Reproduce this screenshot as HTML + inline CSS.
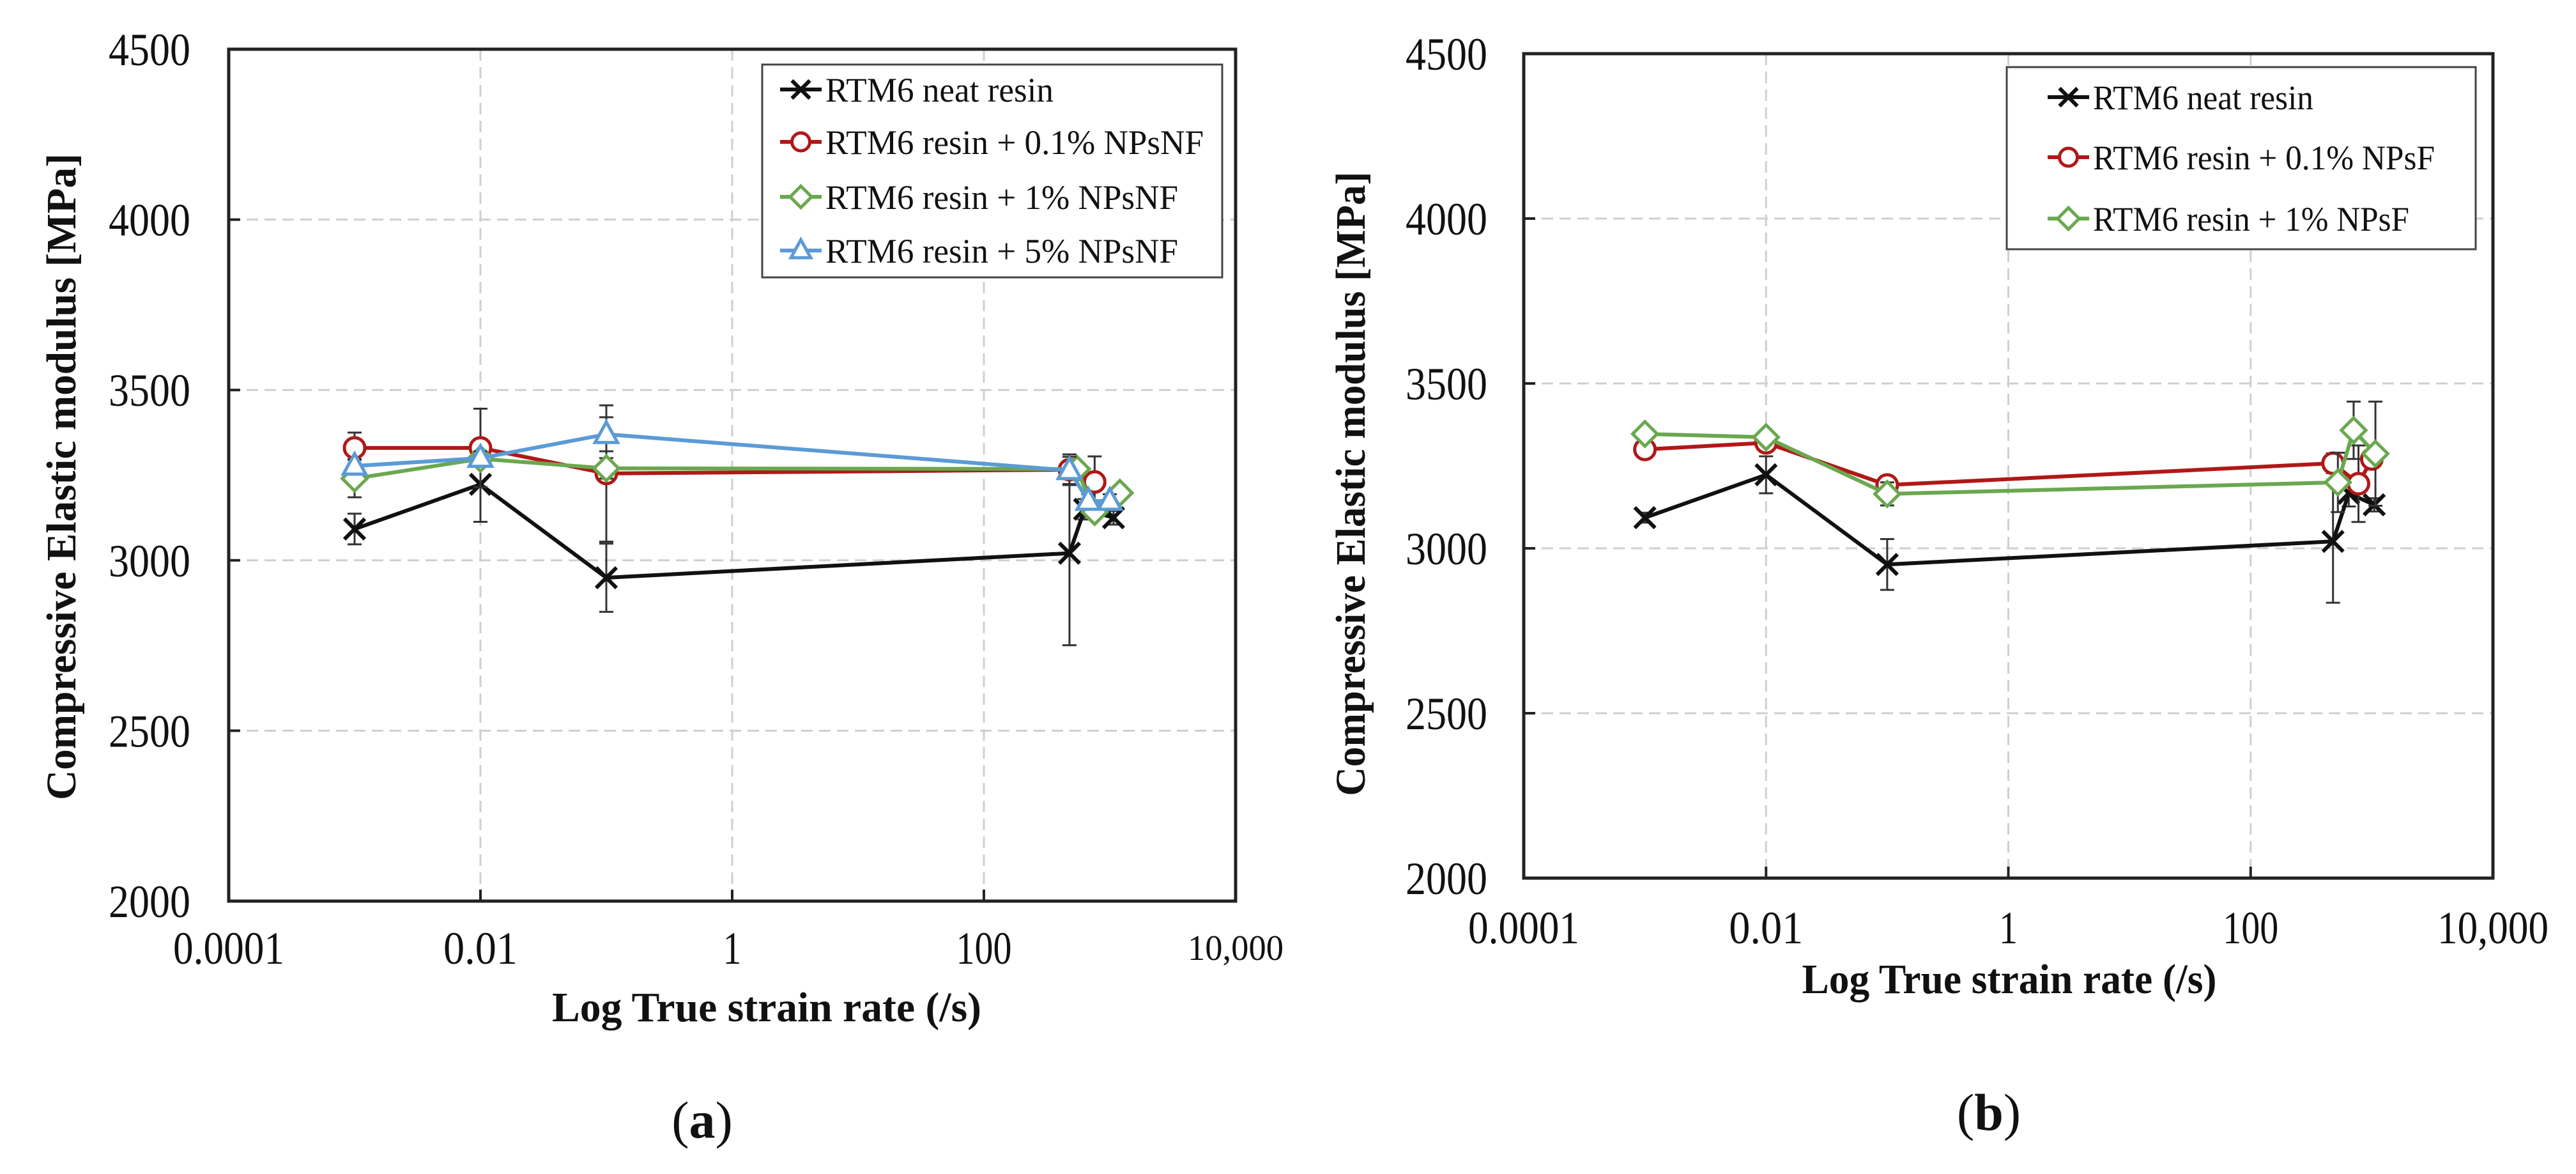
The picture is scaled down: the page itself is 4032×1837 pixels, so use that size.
<!DOCTYPE html>
<html><head><meta charset="utf-8"><style>
html,body{margin:0;padding:0;background:#fff;}
svg{display:block;}
text{font-family:"Liberation Serif",serif;fill:#111;}
</style></head><body>
<svg id="fig" width="4032" height="1837" viewBox="0 0 4032 1837" xmlns="http://www.w3.org/2000/svg">
<rect width="4032" height="1837" fill="#fff"/>
<g id="chartA"></g>
<g id="chartB"></g>
<text x="1099" y="1780" font-size="82" text-anchor="middle">(<tspan font-weight="bold">a</tspan>)</text>
<text x="3113" y="1768" font-size="82" text-anchor="middle">(<tspan font-weight="bold">b</tspan>)</text>
</svg>
<script>
// ---- data (log10 of strain rate, modulus MPa, error) ----
const yTicks = [2000, 2500, 3000, 3500, 4000, 4500];
const xTickExp = [-4, -2, 0, 2, 4];
const xTickLabels = ["0.0001", "0.01", "1", "100", "10,000"];

const aNeatX = [-3, -2, -1, 2.68, 2.80, 3.03];
const aNeatY = [3092, 3223, 2949, 3021, 3150, 3125];
const aNeatE = [45, 110, 100, 270, 30, 20];
const aR01X = [-3, -2, -1, 2.68, 2.88];
const aR01Y = [3330, 3330, 3255, 3266, 3230];
const aR01E = [45, 115, 200, 45, 75];
const aR1X = [-3, -2, -1, 2.74, 2.88, 3.08];
const aR1Y = [3240, 3298, 3270, 3268, 3142, 3198];
const aR1E = [55, 20, 30, 20, 20, 20];
const aR5X = [-3, -2, -1, 2.68, 2.83, 3.0];
const aR5Y = [3277, 3300, 3370, 3264, 3174, 3174];
const aR5E = [20, 20, 50, 40, 20, 20];

const bNeatX = [-3, -2, -1, 2.68, 2.81, 3.02];
const bNeatY = [3093, 3223, 2951, 3021, 3167, 3132];
const bNeatE = [15, 56, 77, 186, 40, 20];
const bR01X = [-3, -2, -1, 2.68, 2.89, 3.0];
const bR01Y = [3300, 3320, 3192, 3258, 3196, 3271];
const bR01E = [10, 15, 15, 30, 116, 20];
const bR1X = [-3, -2, -1, 2.72, 2.85, 3.03];
const bR1Y = [3347, 3337, 3165, 3200, 3358, 3287];
const bR1E = [10, 15, 35, 90, 87, 158];

const NS = "http://www.w3.org/2000/svg";
function mk(parent, tag, attrs) {
  const e = document.createElementNS(NS, tag);
  for (const k in attrs) e.setAttribute(k, attrs[k]);
  parent.appendChild(e);
  return e;
}
const RED = "#b01818", GREEN = "#6aa84f", BLUE = "#5b9bd5", BLACK = "#111";

function marker(g, type, cx, cy, color, s) {
  let m;
  if (type === "x") {
    m = mk(g, "path", {d: `M${cx-s},${cy-s}L${cx+s},${cy+s}M${cx-s},${cy+s}L${cx+s},${cy-s}`, stroke: color, "stroke-width": 6, fill: "none"});
  } else if (type === "o") {
    m = mk(g, "circle", {cx: cx, cy: cy, r: s, stroke: color, "stroke-width": 5, fill: "#fff"});
  } else if (type === "d") {
    m = mk(g, "path", {d: `M${cx},${cy-s*1.2}L${cx+s*1.2},${cy}L${cx},${cy+s*1.2}L${cx-s*1.2},${cy}Z`, stroke: color, "stroke-width": 5, fill: "#fff"});
  } else {
    m = mk(g, "path", {d: `M${cx},${cy-s*1.2}L${cx+s*1.1},${cy+s*0.8}L${cx-s*1.1},${cy+s*0.8}Z`, stroke: color, "stroke-width": 5, fill: "#fff"});
  }
  return m;
}

function drawChart(g, cfg) {
  const X = e => cfg.left + (e + 4) * (cfg.right - cfg.left) / 8;
  const Y = v => cfg.bottom - (v - 2000) * (cfg.bottom - cfg.top) / 2500;
  // grid
  yTicks.forEach(v => {
    if (v > 2000 && v < 4500) {
      const l = mk(g, "line", {x1: cfg.left, x2: cfg.right, y1: Y(v), y2: Y(v), stroke: "#cfcfcf", "stroke-width": 3, "stroke-dasharray": "18,10"});
      
      
    }
  });
  xTickExp.forEach(e => {
    if (e > -4 && e < 4) {
      const l = mk(g, "line", {x1: X(e), x2: X(e), y1: cfg.top, y2: cfg.bottom, stroke: "#cfcfcf", "stroke-width": 3, "stroke-dasharray": "18,10"});
      
      
    }
  });
  const frame = mk(g, "rect", {x: cfg.left, y: cfg.top, width: cfg.right - cfg.left, height: cfg.bottom - cfg.top, fill: "none", stroke: "#222", "stroke-width": 5});
  
  
  // ticks
  yTicks.forEach(v => {
    const t = mk(g, "line", {x1: cfg.left, x2: cfg.left + 18, y1: Y(v), y2: Y(v), stroke: "#222", "stroke-width": 4});
    
    
    const tx = mk(g, "text", {x: cfg.yLabelRight, y: Y(v) + 25, "font-size": 72, "text-anchor": "end", textLength: 128, lengthAdjust: "spacingAndGlyphs"});
    tx.textContent = String(v);
    
    
  });
  xTickExp.forEach((e, i) => {
    const t = mk(g, "line", {x1: X(e), x2: X(e), y1: cfg.bottom, y2: cfg.bottom - 18, stroke: "#222", "stroke-width": 4});
    
    
    const lbl = xTickLabels[i];
    const small = cfg.smallLast && i === xTickLabels.length - 1;
    const fs = small ? 56 : 72;
    const len = small ? 150 : lbl.length * 29;
    const tx = mk(g, "text", {x: X(e), y: cfg.xLabelY + (small ? -6 : 0), "font-size": fs, "text-anchor": "middle", textLength: len, lengthAdjust: "spacingAndGlyphs"});
    tx.textContent = lbl;
    
    
  });
  // titles
  const yt = mk(g, "text", {x: 0, y: 0, "font-size": 66, "font-weight": "bold", "text-anchor": "middle", transform: `translate(${cfg.yTitleX},${cfg.yTitleY}) rotate(-90)`, textLength: cfg.yTitleLen, lengthAdjust: "spacingAndGlyphs"});
  yt.textContent = "Compressive Elastic modulus [MPa]";
  
  
  const xt = mk(g, "text", {x: cfg.xTitleX, y: cfg.xTitleY, "font-size": 66, "font-weight": "bold", "text-anchor": "middle", textLength: cfg.xTitleLen, lengthAdjust: "spacingAndGlyphs"});
  xt.textContent = "Log True strain rate (/s)";
  
  
  // series
  cfg.series.forEach(s => {
    const sg = mk(g, "g", {});
    
    
    s.x.forEach((e, i) => {
      const cx = X(e), y1 = Y(s.y[i] + s.e[i]), y2 = Y(s.y[i] - s.e[i]);
      const eb = mk(sg, "path", {d: `M${cx},${y1}L${cx},${y2}M${cx-11},${y1}L${cx+11},${y1}M${cx-11},${y2}L${cx+11},${y2}`, stroke: "#333", "stroke-width": 3, fill: "none"});
      
      
    });
    const pts = s.x.map((e, i) => X(e) + "," + Y(s.y[i])).join(" ");
    const pl = mk(sg, "polyline", {points: pts, fill: "none", stroke: s.color, "stroke-width": 6, "stroke-linejoin": "round"});
    
    
    s.x.forEach((e, i) => {
      const m = marker(sg, s.type, X(e), Y(s.y[i]), s.color, 16);
      
      
    });
  });
  // legend
  const lg = mk(g, "g", {});
  
  
  const box = mk(lg, "rect", {x: cfg.legend.x, y: cfg.legend.y, width: cfg.legend.w, height: cfg.legend.h, fill: "#fff", stroke: "#444", "stroke-width": 3});
  
  
  cfg.series.forEach((s, i) => {
    const ey = cfg.legend.rows[i];
    const en = mk(lg, "g", {});
    
    
    mk(en, "line", {x1: cfg.legend.mx1, x2: cfg.legend.mx2, y1: ey, y2: ey, stroke: s.color, "stroke-width": 6});
    marker(en, s.type, (cfg.legend.mx1 + cfg.legend.mx2) / 2, ey, s.color, 14);
    const t = mk(en, "text", {x: cfg.legend.tx, y: ey + 19, "font-size": 54, textLength: s.lw, lengthAdjust: "spacingAndGlyphs"});
    t.textContent = s.label;
  });
}

drawChart(document.getElementById("chartA"), {
  left: 358, right: 1934, top: 77, bottom: 1410,
  yLabelRight: 298, xLabelY: 1508, smallLast: true,
  yTitleX: 118, yTitleY: 746, yTitleLen: 1012,
  xTitleX: 1200, xTitleY: 1598, xTitleLen: 672,
  legend: {x: 1193, y: 101, w: 720, h: 333, rows: [140, 222, 308, 392], mx1: 1221, mx2: 1286, tx: 1292},
  series: [
    {name: "series-neat-resin", label: "RTM6 neat resin", color: BLACK, type: "x", x: aNeatX, y: aNeatY, e: aNeatE, lw: 357},
    {name: "series-0.1-npsnf", label: "RTM6 resin + 0.1% NPsNF", color: RED, type: "o", x: aR01X, y: aR01Y, e: aR01E, lw: 592},
    {name: "series-1-npsnf", label: "RTM6 resin + 1% NPsNF", color: GREEN, type: "d", x: aR1X, y: aR1Y, e: aR1E, lw: 552},
    {name: "series-5-npsnf", label: "RTM6 resin + 5% NPsNF", color: BLUE, type: "t", x: aR5X, y: aR5Y, e: aR5E, lw: 552}
  ]
});
drawChart(document.getElementById("chartB"), {
  left: 2385, right: 3902, top: 84, bottom: 1374,
  yLabelRight: 2328, xLabelY: 1476, smallLast: false,
  yTitleX: 2136, yTitleY: 757, yTitleLen: 977,
  xTitleX: 3145, xTitleY: 1554, xTitleLen: 649,
  legend: {x: 3141, y: 105, w: 734, h: 285, rows: [152, 246, 342], mx1: 3205, mx2: 3270, tx: 3276},
  series: [
    {name: "series-neat-resin", label: "RTM6 neat resin", color: BLACK, type: "x", x: bNeatX, y: bNeatY, e: bNeatE, lw: 345},
    {name: "series-0.1-npsf", label: "RTM6 resin + 0.1% NPsF", color: RED, type: "o", x: bR01X, y: bR01Y, e: bR01E, lw: 535},
    {name: "series-1-npsf", label: "RTM6 resin + 1% NPsF", color: GREEN, type: "d", x: bR1X, y: bR1Y, e: bR1E, lw: 495}
  ]
});
</script>
</body></html>
